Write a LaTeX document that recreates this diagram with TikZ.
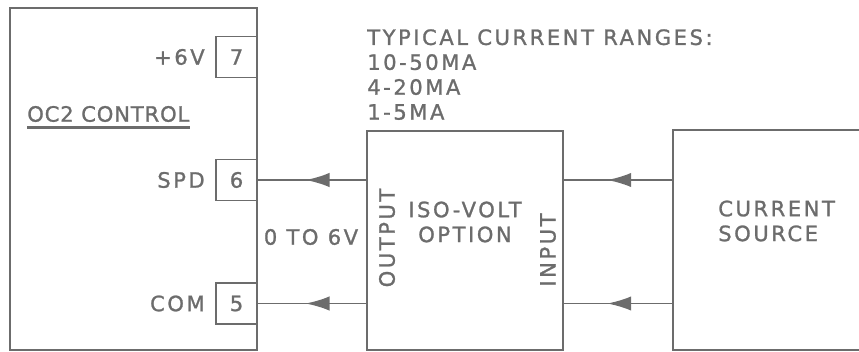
\documentclass[tikz,border=0pt]{standalone}
\usepackage{fontspec}
\setmainfont{DejaVu Sans}
\newfontfamily\lettering{DejaVu Sans}[LetterSpace=12, FakeBold=1.2]
\newfontfamily\letteringtight{DejaVu Sans}[LetterSpace=4, FakeBold=1.2]
\usepackage{tikz}
\usetikzlibrary{positioning, arrows.meta}
\usetikzlibrary{decorations.markings}

\definecolor{ink}{RGB}{108,108,108}

\begin{document}
\begin{tikzpicture}[x=0.025cm, y=-0.025cm,
    box/.style={draw=ink, line width=1.4pt, inner sep=0pt},
    pin/.style={box, minimum width=1.025cm, minimum height=1.025cm},
    lbl/.style={font=\lettering\fontsize{15}{17.7}\selectfont, text=ink, inner sep=0pt},
    wire/.style={draw=ink, line width=1.4pt, postaction={decorate},
      decoration={markings, mark=at position #1 with
        {\arrow{Latex[length=0.6cm, width=0.36cm]}}}}]
        \clip (0,0) rectangle (859,352);
        
        % Control unit and its terminals
        \node[box, minimum width=6.175cm, minimum height=8.55cm] (ctrl) at (133.5,179) {};
        \node[pin] (t7) at (236.5,57) {};
        \node[pin] (t6) at (236.5,180) {};
        \node[pin] (t5) at (236.5,303.5) {};
        \node[lbl] at (t7) {7};
        \node[lbl] at (t6) {6};
        \node[lbl] at (t5) {5};
        \node[lbl, left=0.25cm of t7] (v6) {+6V};
        \node[lbl, left=0.25cm of t6] (spd) {SPD};
        \node[lbl, left=0.25cm of t5] (com) {COM};
        \node[lbl, font=\letteringtight\fontsize{15}{17.7}\selectfont, anchor=west] (oc) at (27,114) {OC2 CONTROL};
        \draw[ink, line width=2.2pt] ([yshift=-0.12cm]oc.south west) -- ([yshift=-0.12cm]oc.south east);
        
        % Iso-volt option
        \node[box, minimum width=4.9cm, minimum height=5.475cm] (iso) at (465,240.5) {};
        \node[lbl, align=center] (isotxt) at (465,222) {ISO-VOLT\\OPTION};
        \node[lbl, rotate=90] (out) at (387,238) {OUTPUT};
        \node[lbl, rotate=90] (in) at (548,250) {INPUT};
        
        % Current source
        \node[box, minimum width=5.175cm, minimum height=5.5cm] (src) at (776.5,240) {};
        \node[lbl, align=left, anchor=west] (srctxt) at (718,221) {CURRENT\\SOURCE};
        
        % Ranges
        \node[lbl, align=left, anchor=north west] (rng) at (367,29)
          {TYPICAL CURRENT RANGES:\\10-50MA\\4-20MA\\1-5MA};
        
        % Wires
        \draw[wire=0.56] (iso.west |- t6) -- (t6.east);
        \draw[wire=0.56] (iso.west |- t5) -- (t5.east);
        \draw[wire=0.6] (src.west |- t6) -- (iso.east |- t6);
        \draw[wire=0.6] (src.west |- t5) -- (iso.east |- t5);
        \node[lbl] (range) at (311,237) {0 TO 6V};
    \end{tikzpicture}
\end{document}
